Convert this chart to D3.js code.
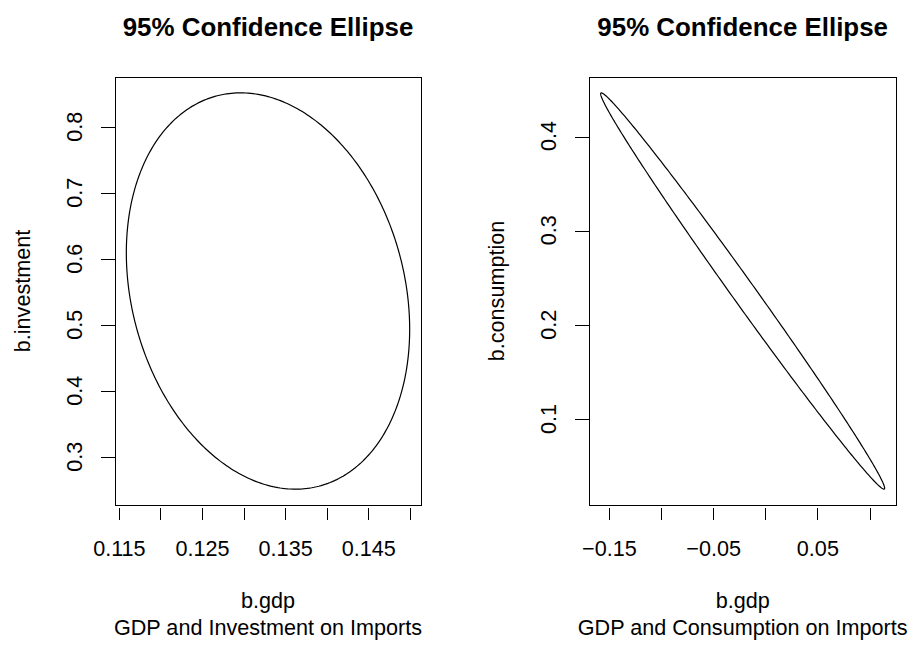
<!DOCTYPE html>
<html>
<head>
<meta charset="utf-8">
<script src="https://cdn.jsdelivr.net/npm/d3@7"></script>
<style>
  html, body { margin: 0; padding: 0; background: #fff; }
  svg { display: block; }
  text { font-family: "Liberation Sans", Arial, Helvetica, sans-serif; fill: #000; }
</style>
</head>
<body>
<svg id="chart" width="921" height="645"></svg>
<script>
// ---- Data ----
const titles = ["95% Confidence Ellipse", "95% Confidence Ellipse"];
const xLabels = ["b.gdp", "b.gdp"];
const subLabels = ["GDP and Investment on Imports", "GDP and Consumption on Imports"];
const yLabels = ["b.investment", "b.consumption"];

// ellipse 1: b.gdp vs b.investment
const center1 = [0.13300, 0.55106];     // [b.gdp, b.investment]
const halfAxis1 = [0.01704, 0.30022];   // extent from centre along x and y
const corr1 = -0.193;
// ellipse 2: b.gdp vs b.consumption
const center2 = [-0.0212, 0.23569];
const halfAxis2 = [0.1362, 0.21006];
const corr2 = -0.995;

// axis ticks
const xTicks1 = [0.115, 0.120, 0.125, 0.130, 0.135, 0.140, 0.145, 0.150];
const xTickLabels1 = ["0.115", "", "0.125", "", "0.135", "", "0.145", ""];
const yTicks1 = [0.3, 0.4, 0.5, 0.6, 0.7, 0.8];
const yTickLabels1 = ["0.3", "0.4", "0.5", "0.6", "0.7", "0.8"];
const xTicks2 = [-0.15, -0.10, -0.05, 0.00, 0.05, 0.10];
const xTickLabels2 = ["\u22120.15", "", "\u22120.05", "", "0.05", ""];
const yTicks2 = [0.1, 0.2, 0.3, 0.4];
const yTickLabels2 = ["0.1", "0.2", "0.3", "0.4"];

const panels = [
  { center: center1, half: halfAxis1, rho: corr1, xt: xTicks1, xtl: xTickLabels1, yt: yTicks1, ytl: yTickLabels1, left: 115, right: 421 },
  { center: center2, half: halfAxis2, rho: corr2, xt: xTicks2, xtl: xTickLabels2, yt: yTicks2, ytl: yTickLabels2, left: 589.3, right: 896 }
];

const svg = d3.select("#chart");
const plotTop = 77, plotBottom = 505;
const baseFont = 21.6;

panels.forEach((p, i) => {
  // ellipse points (95% contour, scaled by covariance)
  const angles = d3.range(0, 361).map(d => d * Math.PI / 180);
  const s = Math.sqrt(1 - p.rho * p.rho);
  const pts = angles.map(t => [
    p.center[0] + p.half[0] * Math.cos(t),
    p.center[1] + p.half[1] * (p.rho * Math.cos(t) + s * Math.sin(t))
  ]);
  const xExt = d3.extent(pts, d => d[0]);
  const yExt = d3.extent(pts, d => d[1]);
  const padX = (xExt[1] - xExt[0]) * 0.04, padY = (yExt[1] - yExt[0]) * 0.04;
  const x = d3.scaleLinear().domain([xExt[0] - padX, xExt[1] + padX]).range([p.left, p.right]);
  const y = d3.scaleLinear().domain([yExt[0] - padY, yExt[1] + padY]).range([plotBottom, plotTop]);

  const g = svg.append("g");
  const cx = (p.left + p.right) / 2;

  // box
  g.append("rect")
    .attr("x", p.left + 0.5).attr("y", plotTop + 0.5)
    .attr("width", p.right - p.left).attr("height", plotBottom - plotTop)
    .attr("fill", "none").attr("stroke", "#000").attr("stroke-width", 1)
    .attr("shape-rendering", "crispEdges");

  // ellipse
  g.append("path")
    .datum(pts)
    .attr("d", d3.line().x(d => x(d[0])).y(d => y(d[1])).curve(d3.curveLinearClosed))
    .attr("fill", "none").attr("stroke", "#000").attr("stroke-width", 1.2);

  // x axis
  const xa = g.append("g").attr("transform", `translate(0.5,${plotBottom + 3})`)
    .call(d3.axisBottom(x).tickValues(p.xt).tickSize(11.5).tickPadding(20.8)
      .tickFormat((d, k) => p.xtl[k]));
  xa.select(".domain").remove();
  xa.selectAll("line").attr("stroke", "#000").attr("shape-rendering", "crispEdges");
  xa.selectAll("text").attr("font-size", baseFont).attr("font-family", null).attr("fill", "#000");
  xa.attr("font-family", null).attr("font-size", null);

  // y axis
  const ya = g.append("g").attr("transform", `translate(${p.left + 0.5},0.5)`)
    .call(d3.axisLeft(y).tickValues(p.yt).tickSize(14.5).tickFormat(""));
  ya.select(".domain").remove();
  ya.selectAll("line").attr("stroke", "#000").attr("shape-rendering", "crispEdges");
  g.selectAll(".ylab").data(p.yt).enter().append("text")
    .attr("class", "ylab")
    .attr("transform", d => `translate(${p.left - 41},${y(d)}) rotate(-90)`)
    .attr("text-anchor", "middle").attr("dy", "0.36em")
    .attr("font-size", baseFont)
    .text((d, k) => p.ytl[k]);

  // titles
  g.append("text").attr("x", cx).attr("y", 36).attr("text-anchor", "middle")
    .attr("font-size", 25.9).attr("font-weight", "bold").text(titles[i]);
  g.append("text").attr("x", cx).attr("y", 608).attr("text-anchor", "middle")
    .attr("font-size", baseFont).text(xLabels[i]);
  g.append("text").attr("x", cx).attr("y", 635).attr("text-anchor", "middle")
    .attr("font-size", baseFont).text(subLabels[i]);
  g.append("text")
    .attr("transform", `translate(${p.left - 93},${(plotTop + plotBottom) / 2}) rotate(-90)`)
    .attr("text-anchor", "middle").attr("dy", "0.36em")
    .attr("font-size", baseFont).text(yLabels[i]);
});
</script>
</body>
</html>
